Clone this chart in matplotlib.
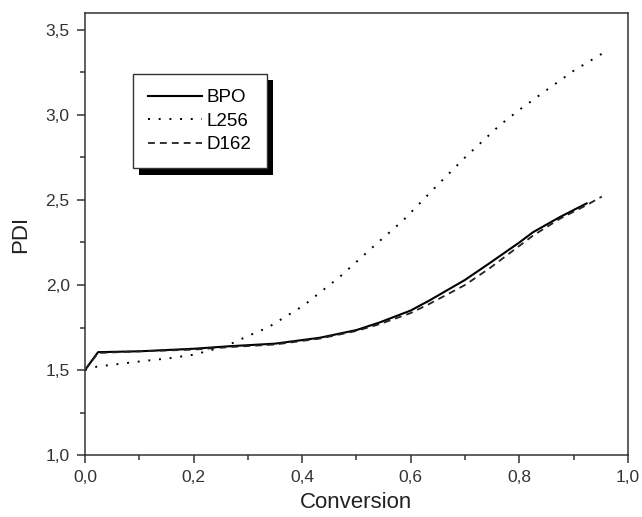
import matplotlib
matplotlib.use('Agg')
import matplotlib.pyplot as plt
import matplotlib.patheffects as pe
from matplotlib.ticker import MultipleLocator, FuncFormatter

plt.rcParams['font.family'] = ['Liberation Sans', 'DejaVu Sans']

# data
bpo_x = [0.0, 0.024, 0.1, 0.2, 0.267, 0.35, 0.433, 0.5, 0.543, 0.6, 0.635,
         0.7, 0.746, 0.8, 0.825, 0.875, 0.924]
bpo_y = [1.50, 1.605, 1.61, 1.625, 1.64, 1.655, 1.69, 1.735, 1.78, 1.85, 1.91,
         2.03, 2.13, 2.25, 2.31, 2.40, 2.48]

l256_x = [0.0, 0.022, 0.1, 0.157, 0.2, 0.254, 0.273, 0.3, 0.337, 0.403, 0.47,
          0.536, 0.586, 0.65, 0.7, 0.764, 0.8, 0.856, 0.9, 0.952]
l256_y = [1.50, 1.52, 1.55, 1.57, 1.59, 1.635, 1.66, 1.70, 1.75, 1.88, 2.05,
          2.24, 2.38, 2.59, 2.75, 2.94, 3.03, 3.16, 3.26, 3.36]

d162_x = [0.0, 0.024, 0.1, 0.2, 0.267, 0.35, 0.433, 0.5, 0.543, 0.6, 0.635,
          0.7, 0.746, 0.8, 0.825, 0.875, 0.924, 0.952]
d162_y = [1.50, 1.60, 1.61, 1.62, 1.635, 1.65, 1.685, 1.73, 1.77, 1.835, 1.89,
          2.00, 2.10, 2.23, 2.29, 2.39, 2.47, 2.52]

fig = plt.figure(figsize=(6.42, 5.17), dpi=100)
ax = fig.add_axes([0.1324, 0.1199, 0.8456, 0.855])

ax.plot(bpo_x, bpo_y, color='black', lw=1.5, label='BPO')
ax.plot(l256_x, l256_y, color='black', lw=1.4, linestyle=(0, (1, 4.5)), label='L256')
ax.plot(d162_x, d162_y, color='#222222', lw=1.3, linestyle=(0, (3.8, 2.8)), label='D162')

ax.set_xlim(0, 1.0)
ax.set_ylim(1.0, 3.6)
ax.xaxis.set_major_locator(MultipleLocator(0.2))
ax.xaxis.set_minor_locator(MultipleLocator(0.1))
ax.yaxis.set_major_locator(MultipleLocator(0.5))
ax.yaxis.set_minor_locator(MultipleLocator(0.25))
comma = FuncFormatter(lambda v, p: f'{v:.1f}'.replace('.', ','))
ax.xaxis.set_major_formatter(comma)
ax.yaxis.set_major_formatter(comma)
ax.tick_params(which='major', direction='out', length=6, width=1.1, pad=5,
               labelsize=12.5, labelcolor='#333333', color='#333333')
ax.tick_params(which='minor', direction='out', length=3.5, width=1.1, color='#333333')
for s in ax.spines.values():
    s.set_linewidth(1.1)
    s.set_color('#333333')

ax.set_xlabel('Conversion', fontsize=16, color='#222222', labelpad=5)
ax.set_ylabel('PDI', fontsize=16, color='#222222', labelpad=10)

leg = ax.legend(loc='upper left', bbox_to_anchor=(0.088, 0.862), fontsize=13.5,
                fancybox=False, edgecolor='#333333', framealpha=1,
                handlelength=2.9, handletextpad=0.25, labelspacing=0.35,
                borderpad=0.8, borderaxespad=0)
leg.get_frame().set_linewidth(1.0)
leg.get_frame().set_path_effects([
    pe.SimplePatchShadow(offset=(4.5, -4.5), shadow_rgbFace='black', alpha=1.0),
    pe.Normal()])

fig.savefig('out.png', dpi=100)
